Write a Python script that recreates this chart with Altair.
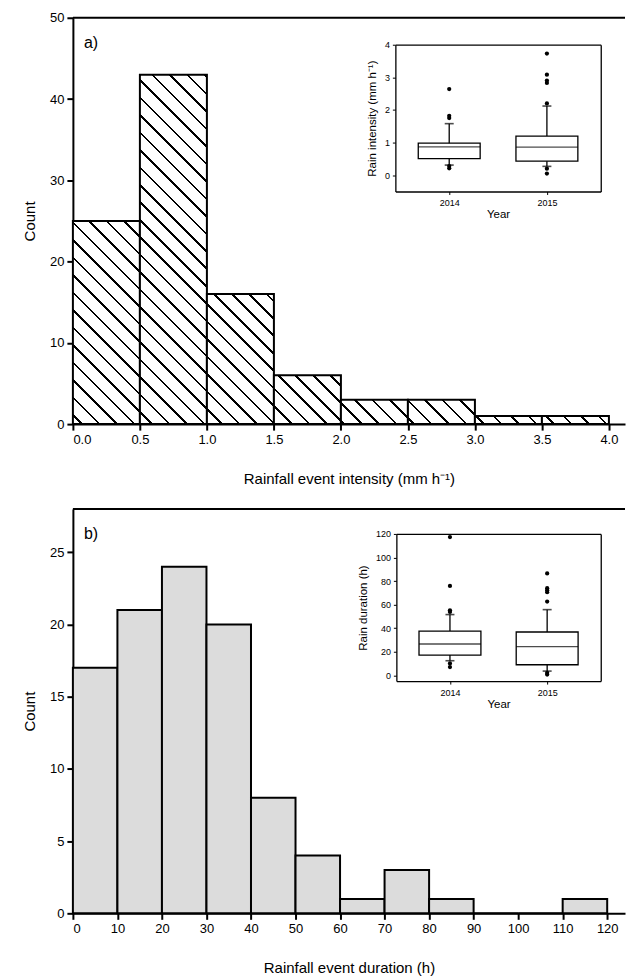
import altair as alt
import pandas as pd

FONT = "Liberation Sans"

# ---------------- data ----------------
int_bin_lo = [0.0, 0.5, 1.0, 1.5, 2.0, 2.5, 3.0, 3.5]
int_bin_hi = [0.5, 1.0, 1.5, 2.0, 2.5, 3.0, 3.5, 4.0]
int_count = [25, 43, 16, 6, 3, 3, 1, 1]

dur_bin_lo = [0, 10, 20, 30, 40, 50, 60, 70, 80, 90, 100, 110]
dur_bin_hi = [10, 20, 30, 40, 50, 60, 70, 80, 90, 100, 110, 120]
dur_count = [17, 21, 24, 20, 8, 4, 1, 3, 1, 0, 0, 1]

years = [2014, 2015]
int_q1 = [0.51, 0.43]
int_med = [0.87, 0.86]
int_q3 = [0.98, 1.20]
int_wlo = [0.31, 0.27]
int_whi = [1.58, 2.12]
int_out_year = [2014, 2014, 2014, 2014, 2014, 2015, 2015, 2015, 2015, 2015, 2015, 2015]
int_out_val = [2.64, 1.82, 1.75, 0.28, 0.21, 3.73, 3.08, 2.90, 2.83, 2.20, 0.20, 0.05]

dur_q1 = [17.1, 8.9]
dur_med = [26.5, 24.2]
dur_q3 = [37.5, 36.7]
dur_wlo = [12.3, 3.5]
dur_whi = [51.5, 55.7]
dur_out_year = [2014, 2014, 2014, 2014, 2014, 2014, 2015, 2015, 2015, 2015, 2015, 2015, 2015]
dur_out_val = [117.3, 75.8, 55.1, 53.7, 10.0, 6.9, 86.4, 73.9, 72.2, 70.5, 62.6, 2.0, 0.5]

int_ticks = [0.0, 0.5, 1.0, 1.5, 2.0, 2.5, 3.0, 3.5, 4.0]
dur_ticks = [0, 10, 20, 30, 40, 50, 60, 70, 80, 90, 100, 110, 120]
count_ticks_a = [0, 10, 20, 30, 40, 50]
count_ticks_b = [0, 5, 10, 15, 20, 25]
int_inset_ticks = [0, 1, 2, 3, 4]
dur_inset_ticks = [0, 20, 40, 60, 80, 100, 120]
inset_year_domain = [2013.5, 2015.5]

# ---------------- layout ----------------
W = 553
HA = 407
HB = 405
XA_MAX = 4.12
XB_MAX = 124
YA_MAX = 50
YB_MAX = 28
PXA = W / XA_MAX
PYA = HA / YA_MAX


def hatch(lo, hi, cnt, period=17.5, lw=2.6, ref=4.9):
    """Diagonal hatching as a linear gradient in bounding-box units."""
    w = (hi - lo) * PXA
    h = cnt * PYA
    x0 = lo * PXA
    if h <= 0:
        return "white"
    L = w + h
    s = L / (w * w + h * h)
    ph = (ref - x0 + HA) % period
    stops = [{"offset": 0.0, "color": "white"}]
    c = ph - period
    while c - lw / 2 < L:
        a = max(0.0, c - lw / 2)
        b = min(L, c + lw / 2)
        if b > 0 and a < L:
            oa, ob = round(a / L, 5), round(b / L, 5)
            stops += [
                {"offset": oa, "color": "white"},
                {"offset": oa, "color": "black"},
                {"offset": ob, "color": "black"},
                {"offset": ob, "color": "white"},
            ]
        c += period
    stops.append({"offset": 1.0, "color": "white"})
    return {"gradient": "linear", "x1": 0, "y1": 1, "x2": s * w, "y2": 1 - s * h, "stops": stops}


hist_a = [
    {"lo": lo, "hi": hi, "count": c, "grad": hatch(lo, hi, c)}
    for lo, hi, c in zip(int_bin_lo, int_bin_hi, int_count)
]
hist_b = pd.DataFrame({"lo": dur_bin_lo, "hi": dur_bin_hi, "count": dur_count})

box_a = pd.DataFrame({"year": years, "q1": int_q1, "med": int_med, "q3": int_q3, "wlo": int_wlo, "whi": int_whi})
out_a = pd.DataFrame({"year": int_out_year, "val": int_out_val})
box_b = pd.DataFrame({"year": years, "q1": dur_q1, "med": dur_med, "q3": dur_q3, "wlo": dur_wlo, "whi": dur_whi})
out_b = pd.DataFrame({"year": dur_out_year, "val": dur_out_val})

one = pd.DataFrame({"k": [0]})


def main_panel(bars, xmax, ymax, xticks, xfmt, yticks, xtitle, label):
    xs = alt.Scale(domain=[0, xmax], nice=False, zero=False)
    ys = alt.Scale(domain=[0, ymax], nice=False, zero=False)
    bars = bars.encode(
        x=alt.X("lo:Q", scale=xs,
                axis=alt.Axis(orient="bottom", values=xticks, format=xfmt, title=xtitle,
                              titlePadding=25)),
        x2="hi:Q",
        y=alt.Y("count:Q", scale=ys,
                axis=alt.Axis(orient="left", values=yticks, title="Count", titlePadding=12)),
        y2=alt.Y2Datum(0),
    )
    top = alt.Chart(one).mark_rule(color="black", strokeWidth=2).encode(
        y=alt.YDatum(ymax, type="quantitative", scale=ys, axis=None)
    )
    lab = alt.Chart(pd.DataFrame({"t": [label]})).mark_text(
        align="left", baseline="middle", fontSize=16, font=FONT, color="black"
    ).encode(text="t:N", x=alt.value(11), y=alt.value(25))
    return alt.layer(bars, top, lab).resolve_axis(x="independent", y="independent")


def inset_panel(box, out, ydomain, yticks, ytitle, xr, yr, h):
    xs = alt.Scale(domain=inset_year_domain, range=xr, nice=False, zero=False)
    ys = alt.Scale(domain=ydomain, range=yr, nice=False, zero=False)
    common = dict(labelFontSize=9, titleFontSize=11.5, tickSize=3, tickWidth=1,
                  domainWidth=1.3, zindex=1)
    border = dict(labels=False, ticks=False, title="", domainWidth=1.3, zindex=1)
    # whiskers carry the top and right edges of the inset frame
    whisk = alt.Chart(box).mark_rule(color="black", strokeWidth=1.3).encode(
        x=alt.X("year:Q", scale=xs,
                axis=alt.Axis(orient="top", offset=-yr[1], **border)),
        y=alt.Y("wlo:Q", scale=ys,
                axis=alt.Axis(orient="right", offset=xr[1] - W, **border)),
        y2="whi:Q",
    )
    boxes = alt.Chart(box).mark_bar(size=62, fill="white", stroke="black", strokeWidth=1.3).encode(
        x=alt.X("year:Q", scale=xs,
                axis=alt.Axis(orient="bottom", offset=yr[0] - h, values=years, format="d",
                              title="Year", labelPadding=4, titlePadding=1, **common)),
        y=alt.Y("q1:Q", scale=ys,
                axis=alt.Axis(orient="left", offset=-xr[0], values=yticks, title=ytitle,
                              labelPadding=3, titlePadding=7, **common)),
        y2="q3:Q",
    )
    med = alt.Chart(box).mark_tick(orient="horizontal", size=62, thickness=1.3, color="black").encode(
        x=alt.X("year:Q", scale=xs, axis=None),
        y=alt.Y("med:Q", scale=ys, axis=None),
    )
    cap_lo = alt.Chart(box).mark_tick(orient="horizontal", size=9, thickness=1.6, color="black").encode(
        x=alt.X("year:Q", scale=xs, axis=None),
        y=alt.Y("wlo:Q", scale=ys, axis=None),
    )
    cap_hi = alt.Chart(box).mark_tick(orient="horizontal", size=9, thickness=1.6, color="black").encode(
        x=alt.X("year:Q", scale=xs, axis=None),
        y=alt.Y("whi:Q", scale=ys, axis=None),
    )
    pts = alt.Chart(out).mark_circle(size=18, color="black", opacity=1).encode(
        x=alt.X("year:Q", scale=xs, axis=None),
        y=alt.Y("val:Q", scale=ys, axis=None),
    )
    return alt.layer(whisk, boxes, med, cap_lo, cap_hi, pts).resolve_axis(
        x="independent", y="independent")


bars_a = alt.Chart(alt.Data(values=hist_a)).mark_rect(stroke="black", strokeWidth=2).encode(
    fill=alt.Fill("grad:N", scale=None, legend=None)
)
bars_b = alt.Chart(hist_b).mark_rect(stroke="black", strokeWidth=2, fill="#dcdcdc")

main_a = main_panel(bars_a, XA_MAX, YA_MAX, int_ticks, ".1f", count_ticks_a,
                    "Rainfall event intensity (mm h\u207b\u00b9)", "a)")
inset_a = inset_panel(box_a, out_a, [-0.5, 4], int_inset_ticks, "Rain intensity (mm h\u207b\u00b9)",
                      [323, 528.7], [174, 27], HA)
panel_a = alt.layer(main_a, inset_a).resolve_scale(x="independent", y="independent").properties(
    width=W, height=HA)

main_b = main_panel(bars_b, XB_MAX, YB_MAX, dur_ticks, "d", count_ticks_b,
                    "Rainfall event duration (h)", "b)")
inset_b = inset_panel(box_b, out_b, [-5, 120], dur_inset_ticks, "Rain duration (h)",
                      [324, 528.7], [172.4, 25], HB)
panel_b = alt.layer(main_b, inset_b).resolve_scale(x="independent", y="independent").properties(
    width=W, height=HB)

chart = alt.vconcat(panel_a, panel_b, spacing=22).properties(
    padding={"left": 14, "top": 3, "right": 0, "bottom": 0}
).configure_axis(
    domainColor="black", tickColor="black", labelColor="black", titleColor="black",
    grid=False, labelFont=FONT, titleFont=FONT, titleFontWeight="normal",
    labelFontSize=13, titleFontSize=15, domainWidth=2, tickWidth=2, tickSize=6,
    labelPadding=3,
).configure_view(stroke=None)

chart.save("out.html", embed_options={"renderer": "svg", "actions": False})
